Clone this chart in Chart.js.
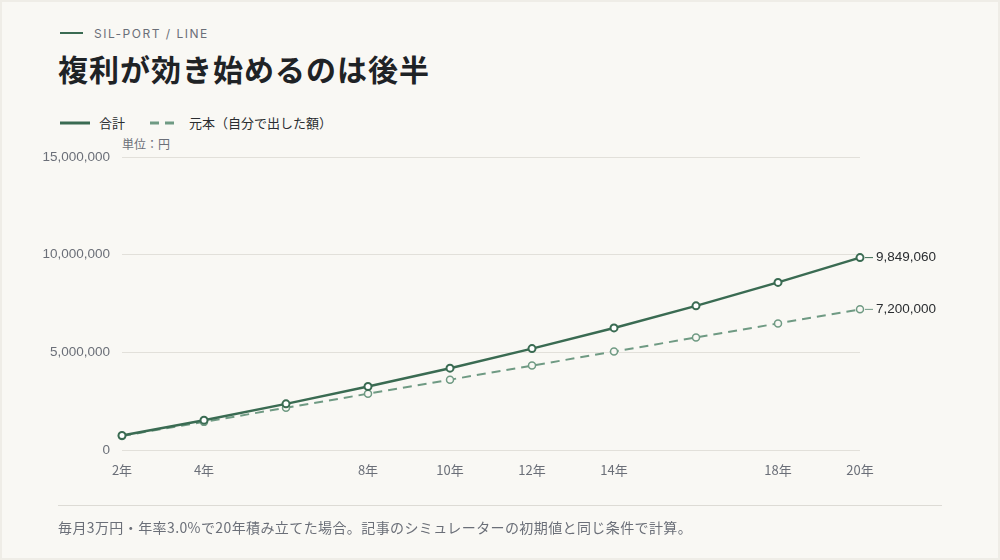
<!DOCTYPE html>
<html><head><meta charset="utf-8">
<script src="https://cdn.jsdelivr.net/npm/chart.js@4"></script>
<style>
html,body{margin:0;padding:0;}
body{width:1000px;height:560px;background:#efede7;font-family:"Noto Sans CJK JP","Noto Sans",sans-serif;overflow:hidden;}
#card{position:absolute;left:2px;top:2px;width:996px;height:556px;background:#f9f8f4;}
#wrap{position:absolute;left:0;top:0;width:1000px;height:560px;}
.eyebrow{position:absolute;left:60px;top:26px;font-size:12px;letter-spacing:1.5px;color:#6b6f78;font-family:Inter,"Noto Sans",sans-serif;}
.eyebrow:before{content:"";display:inline-block;width:23px;height:2px;background:#3a6b52;vertical-align:middle;margin-right:11px;position:relative;top:-2px;}
h1{position:absolute;left:58px;top:46px;margin:0;font-size:30px;font-weight:700;color:#1f2326;letter-spacing:1px;}
.legend{position:absolute;top:113px;font-size:13px;color:#2a2d30;}
.legend svg{vertical-align:middle;margin-right:9px;position:relative;top:-1px;}
.unit{position:absolute;left:122px;top:135px;font-size:12px;color:#6b6f78;}
.rule{position:absolute;left:58px;top:505px;width:884px;height:1px;background:#dddbd5;}
.foot{position:absolute;left:58px;top:517px;font-size:14px;letter-spacing:0.4px;color:#6b6f78;}
</style></head>
<body>
<div id="card"></div>
<div class="eyebrow">SIL-PORT / LINE</div>
<h1>複利が効き始めるのは後半</h1>
<div class="legend" style="left:60px"><svg width="30" height="4"><line x1="0" y1="2" x2="30" y2="2" stroke="#3a6b52" stroke-width="3"/></svg>合計</div>
<div class="legend" style="left:150px"><svg width="30" height="4"><line x1="0" y1="2" x2="30" y2="2" stroke="#6f9a83" stroke-width="3" stroke-dasharray="9,6"/></svg>元本（自分で出した額）</div>
<div class="unit">単位：円</div>
<div id="wrap"><canvas id="c" width="1000" height="560"></canvas></div>
<div class="rule"></div>
<div class="foot">毎月3万円・年率3.0%で20年積み立てた場合。記事のシミュレーターの初期値と同じ条件で計算。</div>
<script>
const categories = ['2年','4年','6年','8年','10年','12年','14年','16年','18年','20年'];
const tickLabels = ['2年','4年','','8年','10年','12年','14年','','18年','20年'];
const totalValues = [741000, 1527000, 2362000, 3248000, 4190000, 5190000, 6250000, 7380000, 8580000, 9849060];
const principalValues = [720000, 1440000, 2160000, 2880000, 3600000, 4320000, 5040000, 5760000, 6480000, 7200000];
const yTicks = [0, 5000000, 10000000, 15000000];

const fmt = v => v.toLocaleString('en-US');
const numFont = '"Liberation Sans", Arial, sans-serif';

const endLabels = {
  id:'endLabels',
  afterDatasetsDraw(chart){
    const ctx = chart.ctx;
    chart.data.datasets.forEach((ds,i)=>{
      const meta = chart.getDatasetMeta(i);
      const p = meta.data[meta.data.length-1];
      const v = ds.data[ds.data.length-1];
      ctx.save();
      ctx.strokeStyle = ds.borderColor; ctx.lineWidth = 1;
      ctx.beginPath(); ctx.moveTo(p.x+5,p.y); ctx.lineTo(p.x+13,p.y); ctx.stroke();
      ctx.fillStyle = '#2a2d30';
      ctx.font = '13.5px ' + numFont;
      ctx.textBaseline = 'middle';
      ctx.fillText(fmt(v), p.x+16, p.y);
      ctx.restore();
    });
  }
};

new Chart(document.getElementById('c'),{
  type:'line',
  data:{
    labels:categories,
    datasets:[
      {label:'合計',data:totalValues,borderColor:'#3a6b52',borderWidth:2.5,pointRadius:3.5,pointBorderWidth:2,pointBackgroundColor:'#ffffff',pointBorderColor:'#3a6b52',tension:0},
      {label:'元本（自分で出した額）',data:principalValues,borderColor:'#6f9a83',borderWidth:2,borderDash:[9,6],pointRadius:3.5,pointBorderWidth:1.5,pointBackgroundColor:'#f9f8f4',pointBorderColor:'#6f9a83',tension:0}
    ]
  },
  options:{
    responsive:false,animation:false,
    layout:{padding:{left:0,right:140,top:157,bottom:70}},
    plugins:{legend:{display:false},tooltip:{enabled:false}},
    scales:{
      x:{
        offset:false,
        grid:{display:false},border:{display:false},
        ticks:{autoSkip:false,maxRotation:0,padding:4,color:'#6b6f78',font:{size:13,family:'"Noto Sans CJK JP", sans-serif'},
          callback:(v,i)=>tickLabels[i]},
        afterFit:s=>{s.height=40;}
      },
      y:{
        min:0,max:15000000,
        grid:{color:'#e2e0da',drawTicks:false,lineWidth:1},border:{display:false},
        afterBuildTicks:s=>{s.ticks=yTicks.map(v=>({value:v}));},
        ticks:{padding:12,color:'#6b6f78',font:{size:13.5,family:numFont},callback:v=>fmt(v)},
        afterFit:s=>{s.width=122;}
      }
    }
  },
  plugins:[endLabels]
});
</script>
</body></html>
